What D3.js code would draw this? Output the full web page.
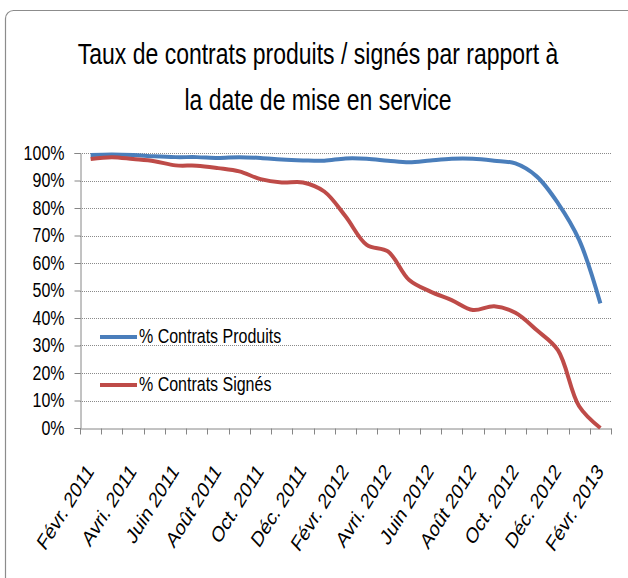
<!DOCTYPE html>
<html>
<head>
<meta charset="utf-8">
<script src="https://cdn.jsdelivr.net/npm/d3@7"></script>
<style>
  html, body { margin: 0; padding: 0; background: #fff; }
  svg { display: block; }
  text { font-family: "Liberation Sans", sans-serif; fill: #000; }
</style>
</head>
<body>
<svg id="chart" width="628" height="578"></svg>
<script>
// months, Févr. 2011 -> Févr. 2013
const months = [
  "Févr. 2011", "Mars 2011", "Avri. 2011", "Mai 2011", "Juin 2011", "Juil. 2011",
  "Août 2011", "Sept. 2011", "Oct. 2011", "Nov. 2011", "Déc. 2011", "Janv. 2012",
  "Févr. 2012", "Mars 2012", "Avri. 2012", "Mai 2012", "Juin 2012", "Juil. 2012",
  "Août 2012", "Sept. 2012", "Oct. 2012", "Nov. 2012", "Déc. 2012", "Janv. 2013",
  "Févr. 2013"
]
const produits = [99.3, 99.5, 99.3, 98.8, 98.5, 98.5, 98.2, 98.5, 98.2, 97.6, 97.3, 97.2,
  98.0, 97.9, 97.2, 96.6, 97.3, 97.9, 97.9, 97.2, 96.2, 91.5, 81.8, 68.4, 45.3]
const signes = [97.8, 98.5, 97.8, 97.0, 95.5, 95.4, 94.5, 93.3, 90.5, 89.3, 89.3, 86.0,
  77.0, 66.6, 64.2, 53.8, 49.6, 46.5, 42.9, 44.3, 41.9, 35.6, 28.3, 7.9, 0]
const yTicks = [0, 10, 20, 30, 40, 50, 60, 70, 80, 90, 100]
const titleLines = ["Taux de contrats produits / signés par rapport à", "la date de mise en service"]
const series = [
  { name: "% Contrats Produits", values: produits, color: "#4a7ebb" },
  { name: "% Contrats Signés", values: signes, color: "#be4b48" }
]

const svg = d3.select('#chart')
const plot = { left: 80, right: 611, top: 153, bottom: 428 }
const vScale = 1.28 // reference text looks stretched vertically

svg.append('rect')
  .attr('x', 5.5).attr('y', 10.5)
  .attr('width', 660).attr('height', 620)
  .attr('rx', 8)
  .attr('fill', '#fff').attr('stroke', '#8c8c8c').attr('stroke-width', 1.2)

// title
svg.append('g')
  .selectAll('text')
  .data(titleLines)
  .join('text')
  .attr('transform', (d, i) => `translate(318,${i === 0 ? 64 : 110}) scale(1,1.32)`)
  .attr('text-anchor', 'middle')
  .attr('font-size', 23)
  .text(d => d)

const x = d3.scaleBand().domain(months).range([plot.left, plot.right])
const y = d3.scaleLinear().domain([0, 100]).range([plot.bottom, plot.top])

// grid
svg.append('g')
  .selectAll('line')
  .data(yTicks.filter(d => d > 0))
  .join('line')
  .attr('x1', plot.left).attr('x2', plot.right)
  .attr('y1', d => Math.round(y(d)) + 0.5).attr('y2', d => Math.round(y(d)) + 0.5)
  .attr('stroke', '#8a8a8a').attr('stroke-width', 1)
  .attr('stroke-dasharray', '1,1')

// y axis
const yAxis = svg.append('g')
  .attr('transform', `translate(${plot.left + 0.5},0)`)
  .call(d3.axisLeft(y).tickValues(yTicks).tickSize(6).tickPadding(10).tickFormat(d => d + '%'))
yAxis.select('.domain').attr('stroke', '#868686')
yAxis.selectAll('.tick line').attr('stroke', '#868686')
yAxis.selectAll('.tick text')
  .attr('font-size', 16)
  .attr('font-family', '"Liberation Sans", sans-serif')
  .attr('dy', null)
  .attr('transform', `translate(0,6) scale(1,${vScale})`)

// x axis
const xAxis = svg.append('g')
  .attr('transform', `translate(0,${plot.bottom + 0.5})`)
  .call(d3.axisBottom(x).tickSize(0).tickFormat(''))
xAxis.select('.domain').attr('stroke', '#868686')
xAxis.selectAll('.tick').remove()
xAxis.append('g')
  .selectAll('line')
  .data(months.concat(['end']))
  .join('line')
  .attr('x1', (d, i) => Math.round(plot.left + i * x.step()) + 0.5)
  .attr('x2', (d, i) => Math.round(plot.left + i * x.step()) + 0.5)
  .attr('y1', 0).attr('y2', 6)
  .attr('stroke', '#868686')

svg.append('g')
  .selectAll('text')
  .data(months.filter((d, i) => i % 2 === 0))
  .join('text')
  .attr('transform', d => `translate(${x(d) + x.bandwidth() / 2 + 4},${plot.bottom + 44}) scale(1,1.3) rotate(-51)`)
  .attr('text-anchor', 'end')
  .attr('font-size', 17)
  .text(d => d)

// lines
const line = d3.line()
  .x((d, i) => x(months[i]) + x.bandwidth() / 2)
  .y(d => y(d))
  .curve(d3.curveCatmullRom)

svg.append('g')
  .selectAll('path')
  .data(series)
  .join('path')
  .attr('d', s => line(s.values))
  .attr('fill', 'none')
  .attr('stroke', s => s.color)
  .attr('stroke-width', 4)
  .attr('stroke-linejoin', 'round')

// legend inside plot
const legend = svg.append('g')
  .selectAll('g')
  .data(series)
  .join('g')
  .attr('transform', (d, i) => `translate(100,${337 + i * 48})`)
legend.append('line')
  .attr('x1', 0).attr('x2', 37)
  .attr('stroke', d => d.color).attr('stroke-width', 4)
legend.append('text')
  .attr('transform', `translate(39,6) scale(1,${vScale})`)
  .attr('font-size', 16)
  .text(d => d.name)
</script>
</body>
</html>
